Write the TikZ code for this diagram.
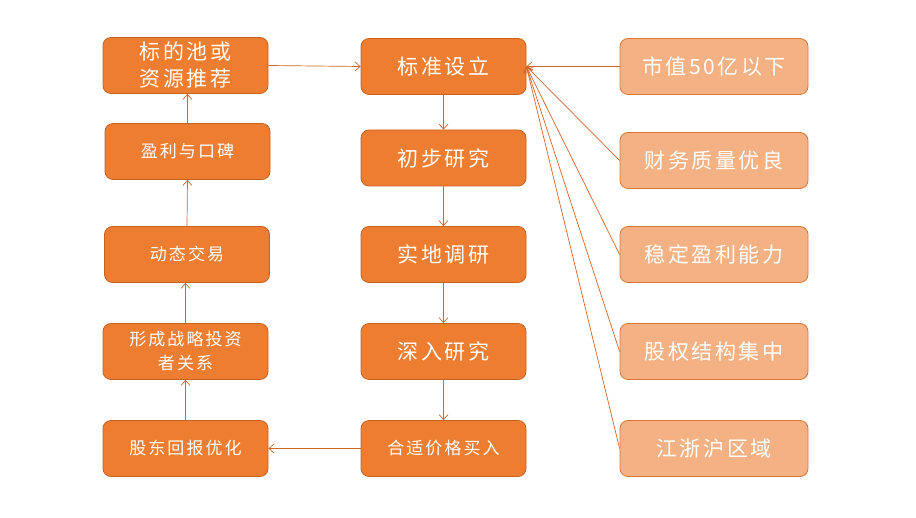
\documentclass[tikz,border=0pt]{standalone}
\usepackage{fontspec}
\newfontfamily\cjk[LetterSpace=12]{Noto Sans CJK SC}
\usetikzlibrary{arrows.meta}
\definecolor{dark}{HTML}{ED7D31}
\definecolor{darkedge}{HTML}{C9611E}
\definecolor{light}{HTML}{F4B183}
\definecolor{lightedge}{HTML}{D9773A}
\definecolor{arr}{HTML}{D0662A}
\tikzset{
  box/.style={rounded corners=8pt, draw=darkedge, fill=dark, line width=0.8pt,
    minimum height=56pt, text=white, align=center, inner sep=0pt, font=\cjk},
  lbox/.style={box, minimum width=165pt},
  mbox/.style={box, minimum width=165pt},
  rbox/.style={box, minimum width=188pt, fill=light, draw=lightedge},
  big/.style={font=\cjk\fontsize{21}{27}\selectfont},
  small/.style={font=\cjk\fontsize{17}{24}\selectfont},
  conn/.style={draw=arr, line width=0.7pt, -{Straight Barb[length=5pt,width=9pt]}}
}
\begin{document}
\begin{tikzpicture}[x=1pt,y=-1pt]
\useasboundingbox (0,0) rectangle (916,518);
% left column
\node[lbox,big] (l1) at (185.5,65.5) {标的池或\\资源推荐};
\node[lbox,small] (l2) at (187.5,151.5) {盈利与口碑};
\node[lbox,small] (l3) at (187,254.5) {动态交易};
\node[lbox,small] (l4) at (185.5,351.5) {形成战略投资\\者关系};
\node[lbox,small] (l5) at (185.5,448.5) {股东回报优化};
% middle column
\node[mbox,big] (m1) at (443.5,66.5) {标准设立};
\node[mbox,big] (m2) at (443.5,158) {初步研究};
\node[mbox,big] (m3) at (443.5,254.5) {实地调研};
\node[mbox,big] (m4) at (443.5,351.5) {深入研究};
\node[mbox,small] (m5) at (443.5,448.5) {合适价格买入};
% right column
\node[rbox,big] (r1) at (714,66.5) {市值50亿以下};
\node[rbox,big] (r2) at (714,160.5) {财务质量优良};
\node[rbox,big] (r3) at (714,254.5) {稳定盈利能力};
\node[rbox,big] (r4) at (714,351.5) {股权结构集中};
\node[rbox,big] (r5) at (714,448.5) {江浙沪区域};
% connectors
\draw[conn] (l5.north -| l4.south) -- (l4.south);
\draw[conn] (l4.north) -- (l3.south -| l4.north);
\draw[conn] (l3.north) -- (l2.south);
\draw[conn] (l2.north) -- (l1.south -| l2.north);
\draw[conn] (l1.east) -- (m1.west);
\draw[conn] (m1.south) -- (m2.north);
\draw[conn] (m2.south) -- (m3.north);
\draw[conn] (m3.south) -- (m4.north);
\draw[conn] (m4.south) -- (m5.north);
\draw[conn] (m5.west) -- (l5.east);
\foreach \i in {1,...,5} { \draw[conn] (r\i.west) -- (m1.east); }
\end{tikzpicture}
\end{document}
